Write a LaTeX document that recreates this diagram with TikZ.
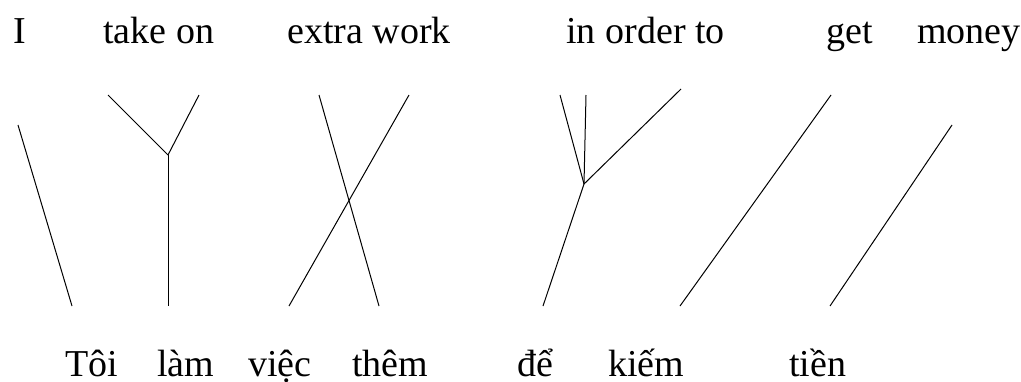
\documentclass[tikz,border=0pt]{standalone}
\usepackage{fontspec}
\setmainfont{Liberation Serif}
\begin{document}
\begin{tikzpicture}[x=0.5pt,y=-0.5pt,
  word/.style={inner sep=0pt, anchor=base west, font=\fontsize{19}{23}\selectfont},
  link/.style={line width=0.5pt}]
\useasboundingbox (0,0) rectangle (1021,381);

% English words
\node[word] (i) at (13,43) {I};
\node[word] (takeon) at (103,43) {take on};
\node[word] (extrawork) at (287,43) {extra work};
\node[word] (inorderto) at (566,43) {in order to};
\node[word] (get) at (826,43) {get};
\node[word] (money) at (917,43) {money};

% Vietnamese words
\node[word] (toi) at (65,376) {Tôi};
\node[word] (lam) at (157,376) {làm};
\node[word] (viec) at (248,376) {việc};
\node[word] (them) at (352,376) {thêm};
\node[word] (de) at (517,376) {để};
\node[word] (kiem) at (608,376) {kiếm};
\node[word] (tien) at (789,376) {tiền};

% link ends
\coordinate (i-t) at (18,125);
\coordinate (toi-t) at (72,306);
\coordinate (take-t) at (108,95);
\coordinate (on-t) at (199,95);
\coordinate (takeon-j) at (168,155);
\coordinate (lam-t) at (168,306);
\coordinate (extra-t) at (319,95);
\coordinate (work-t) at (409,95);
\coordinate (them-t) at (379,306);
\coordinate (viec-t) at (289,306);
\coordinate (in-t) at (560,95);
\coordinate (order-t) at (586,95);
\coordinate (to-t) at (681,89);
\coordinate (inorderto-j) at (584,184);
\coordinate (de-t) at (543,306);
\coordinate (get-t) at (831,95);
\coordinate (kiem-t) at (680,306);
\coordinate (money-t) at (952,125);
\coordinate (tien-t) at (830,306);

% alignment links
\draw[link] (i-t) -- (toi-t);
\draw[link] (take-t) -- (takeon-j);
\draw[link] (on-t) -- (takeon-j);
\draw[link] (takeon-j) -- (lam-t);
\draw[link] (extra-t) -- (them-t);
\draw[link] (work-t) -- (viec-t);
\draw[link] (in-t) -- (inorderto-j);
\draw[link] (order-t) -- (inorderto-j);
\draw[link] (to-t) -- (inorderto-j);
\draw[link] (inorderto-j) -- (de-t);
\draw[link] (get-t) -- (kiem-t);
\draw[link] (money-t) -- (tien-t);
\end{tikzpicture}
\end{document}
